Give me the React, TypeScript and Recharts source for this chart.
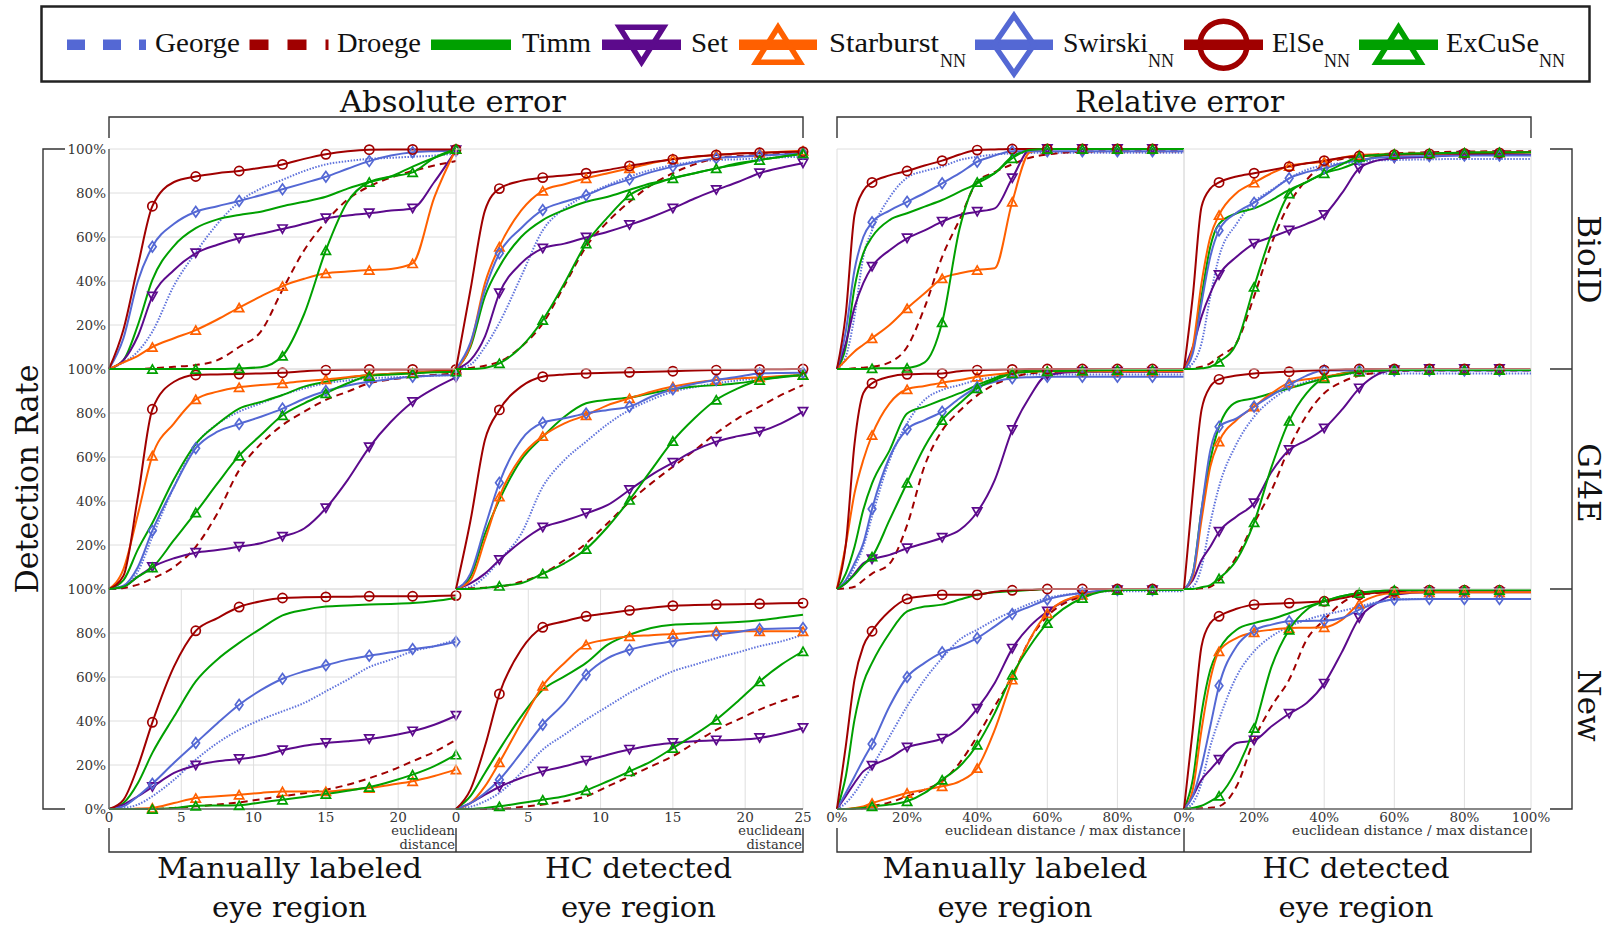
import React from 'react';
import { LineChart, Line, XAxis, YAxis, CartesianGrid } from 'recharts';

// x grids shared by every panel of a kind
const absX = [0, 1, 2, 3, 4.5, 6, 7.5, 9, 10.5, 12, 13.5, 15, 16.5, 18, 19.5, 21, 22.5, 24];
const relX = [0, 2.5, 5, 7.5, 10, 15, 20, 25, 30, 35, 40, 45, 50, 55, 60, 70, 80, 90, 99];
const absMarks = [3, 6, 9, 12, 15, 18, 21, 24];
const relMarks = [10, 20, 30, 40, 50, 60, 70, 80, 90];

const yTicksTop = [20, 40, 60, 80, 100];
const yTicksBottom = [0, 20, 40, 60, 80, 100];
const absTicks = [0, 5, 10, 15, 20];
const absTicksEnd = [0, 5, 10, 15, 20, 24];
const relTicks = [0, 20, 40, 60, 80];
const relTicksEnd = [0, 20, 40, 60, 80, 99];

const rowNames = ['BioID', 'GI4E', 'New'];
const groupTitles = ['Absolute error', 'Relative error'];
const colTitles = ['Manually labeled', 'HC detected', 'Manually labeled', 'HC detected'];

// ---- BioID ----
const bioAbsMan = {
  george: [0, 3, 8, 17, 38, 53, 66, 76, 82, 86, 90, 93, 94.5, 95.5, 96, 96.5, 97, 98],
  droege: [0, 0, 0, 0.3, 1, 1.8, 4, 10, 17, 36, 54, 67, 77, 83, 87, 90, 92.5, 94.5],
  timm: [0, 4, 20, 40.5, 56, 64, 68, 70, 71.5, 74, 76, 78.3, 82, 85, 87.5, 92, 96, 99.5],
  set: [0, 4, 15, 33, 45, 52.6, 56.5, 59.4, 61.5, 63.6, 66, 68.5, 69.8, 70.8, 72, 73, 85, 99.5],
  starburst: [0, 3, 6, 10, 14, 17.7, 22.5, 27.9, 33, 37.7, 41, 43.5, 44.3, 45, 45.5, 48, 78, 100],
  swirski: [0, 14, 40, 55.6, 66, 71.5, 74, 76.4, 79, 81.7, 84.5, 87.4, 91, 94.5, 97, 98.5, 99, 99.2],
  elseNn: [0, 18, 47, 74, 85, 87.5, 89, 90, 91.5, 93, 95.5, 97.6, 99, 99.7, 99.8, 99.8, 99.8, 99.8],
  excuse: [0, 0, 0, 0, 0, 0, 0, 0.3, 0.8, 6, 25, 54, 76, 85, 87.5, 89.4, 96, 100],
};
const bioAbsHc = {
  george: [0, 2, 10, 21, 42, 63, 73, 79, 83.6, 87.4, 90.5, 92.7, 94.2, 95, 95.3, 95.8, 96.2, 96.5],
  droege: [0, 0.5, 1.5, 3.3, 10, 20.7, 38, 55.6, 67, 76, 83.6, 89, 93, 95.8, 96.8, 97.3, 97.8, 98.3],
  timm: [0, 10, 33, 46.5, 60, 67.7, 72.3, 76, 78.3, 81.4, 84.4, 86.7, 89, 91.2, 93.5, 95, 96.5, 97.7],
  set: [0, 4, 14.7, 34.4, 48, 54.8, 57, 59.8, 62.4, 65.5, 69, 73, 77.5, 81.4, 85, 89, 91.5, 93.5],
  starburst: [0, 11, 39, 55.6, 72, 81, 84, 86.7, 89, 91.2, 93.5, 95.5, 96.5, 97.3, 98, 98.3, 98.8, 99.2],
  swirski: [0, 12, 36, 52.6, 64, 72.3, 76, 79, 83, 86.2, 89.5, 92, 94, 95.8, 96.5, 97, 97.5, 98],
  elseNn: [0, 36, 72, 82, 85.5, 87, 88, 89, 90.5, 92.3, 94, 95.3, 96.5, 97.3, 98, 98.3, 98.6, 98.8],
  excuse: [0, 0, 0.5, 2.6, 10, 22.3, 39, 57, 69, 79, 83.6, 86.7, 89, 91.2, 93, 95, 96.5, 98],
};
const bioRelMan = {
  george: [0, 5.6, 24, 51, 63, 78, 87, 90, 92, 95, 96.5, 97.5, 98, 98.2, 98.3, 98.3, 98.3, 98.3, 98.3],
  droege: [0, 0, 0.3, 0.6, 1, 3, 10, 28, 51, 68, 85, 89.5, 93, 96, 97.5, 98.8, 99, 99, 99],
  timm: [0, 10, 37, 52.6, 60, 67.7, 70.8, 73.8, 76.8, 80.6, 84.4, 89, 96.5, 99.5, 100, 100, 100, 100, 100],
  set: [0, 11.7, 28, 39, 46.5, 54, 59.4, 63, 67, 70, 71.5, 73, 86.7, 99.5, 100, 100, 100, 100, 100],
  starburst: [0, 4, 8, 11, 14, 20, 27.6, 34.4, 41.2, 43.5, 45, 45.8, 76, 98.5, 100, 100, 100, 100, 100],
  swirski: [0, 17, 45, 60, 66.7, 72, 76, 80, 84.4, 89, 94.2, 97, 99, 99, 99, 99, 99, 99, 99],
  elseNn: [0, 25, 70, 81, 84.8, 88, 90, 92.5, 94.7, 97.5, 99.5, 99.8, 100, 100, 100, 100, 100, 100, 100],
  excuse: [0, 0, 0, 0, 0.3, 0.3, 0.5, 3, 21.2, 64, 85, 89, 95.8, 99.5, 100, 100, 100, 100, 100],
};
const bioRelHc = {
  george: [0, 2.6, 11.7, 33, 51, 66, 76, 81.4, 86.7, 90.5, 92.7, 93.5, 94.2, 94.8, 95, 95.3, 95.5, 95.5, 95.5],
  droege: [0, 0.3, 1, 2.6, 5.6, 12, 33, 57, 75, 86, 93, 95.5, 96.5, 97.5, 98, 98.5, 98.8, 99, 99],
  timm: [0, 8.6, 33, 55.6, 66, 70.8, 73, 76.8, 81.4, 85, 89, 91.2, 94.2, 96.5, 97.5, 98, 98.3, 98.5, 98.5],
  set: [0, 10, 23.8, 34.4, 42.7, 51, 57, 60, 63, 66, 70, 79.8, 91.2, 94.7, 95.8, 96.5, 97.3, 97.3, 97.3],
  starburst: [0, 10, 39, 60, 70, 80, 84.7, 89, 92.3, 93.5, 94.2, 96, 97.3, 97.5, 97.7, 98, 98.2, 98.4, 98.5],
  swirski: [0, 7, 30, 51, 63, 71, 75.6, 81, 86.7, 89.5, 91.2, 93.5, 95, 96, 96.5, 96.8, 97, 97, 97],
  elseNn: [0, 33, 73.8, 82, 84.8, 87.5, 89, 90.5, 92, 93.5, 94.7, 96, 96.8, 97.2, 97.4, 97.8, 98, 98.2, 98.5],
  excuse: [0, 0, 0.3, 1, 3.3, 11.7, 37.4, 61.7, 79.8, 85, 89, 93, 96.5, 97.3, 97.7, 98, 98.3, 98.5, 98.5],
};

// ---- GI4E ----
const gi4eAbsMan = {
  george: [0, 1, 8, 23.8, 46.5, 65.5, 75, 80.6, 84.4, 88.2, 91.2, 93.5, 94.8, 95.8, 96.2, 96.5, 97, 97.3],
  droege: [0, 0.5, 2, 4.8, 10, 19.2, 34.4, 54, 66, 74.5, 80.6, 86, 89.7, 93.5, 95.2, 96.5, 97.3, 98],
  timm: [0, 4, 18, 30, 50, 66, 75, 82, 85, 88.2, 92, 94.2, 96, 97.3, 97.8, 98.3, 98.8, 99.2],
  set: [0, 1, 5.6, 10, 14, 16.5, 17.7, 19.2, 20.8, 23.8, 27.5, 36.7, 49.5, 64.4, 76, 85, 91.2, 96.2],
  starburst: [0, 9, 34, 60.6, 75.3, 86.2, 89.7, 91.7, 92.7, 93.5, 94.5, 95.3, 96.3, 97.3, 97.8, 98.3, 99, 99.5],
  swirski: [0, 1.5, 10, 26.5, 46.5, 64, 71.5, 75, 78.3, 82, 86.5, 90, 92.5, 94.2, 95.5, 96.5, 97, 97.3],
  elseNn: [0, 6, 42, 81.7, 94.2, 97.3, 97.5, 97.7, 98, 98.3, 99, 99.5, 99.7, 99.8, 99.8, 99.8, 99.8, 99.8],
  excuse: [0, 1, 5.6, 9.8, 22.3, 34.8, 48, 60.6, 70, 79, 84.4, 89, 93.5, 96.8, 97.5, 98, 98.5, 98.8],
};
const gi4eAbsHc = {
  george: [0, 1, 5.6, 13, 25, 46.5, 58.6, 67, 75, 81.4, 86, 89.7, 91.8, 93.5, 94.8, 95.8, 96.6, 97.3],
  droege: [0, 0.3, 0.6, 1, 3.3, 7, 13.2, 20.8, 30, 39.7, 48, 55.6, 63, 70.8, 77.6, 82.9, 88.2, 92.7],
  timm: [0, 5.6, 25, 40.5, 58.6, 69.2, 78.3, 84.4, 86, 87, 89, 90.8, 92, 92.7, 93.5, 95, 96.3, 97.3],
  set: [0, 2.6, 7, 13.2, 21.5, 28, 31, 34.4, 38.2, 45, 51.8, 57.4, 63, 67, 69.5, 71.5, 75.3, 80.6],
  starburst: [0, 4, 22.3, 42, 60, 69.5, 75.3, 79, 83.6, 86.7, 89.7, 92, 93.8, 95, 95.7, 96.2, 96.8, 97.3],
  swirski: [0, 7, 28, 48.3, 67.7, 75.6, 77.6, 79.8, 81.4, 82.9, 87.4, 90.8, 93.3, 95, 96.5, 98, 98.2, 98.3],
  elseNn: [0, 31, 67.7, 81.4, 92, 96.5, 97.5, 98, 98.3, 98.5, 98.8, 99, 99.3, 99.5, 99.6, 99.8, 99.9, 100],
  excuse: [0, 0, 0.5, 1.4, 2.6, 7, 11.7, 18.2, 28.3, 40.5, 54, 67.3, 77.6, 86, 91.2, 95, 96.5, 97.3],
};
const gi4eRelMan = {
  george: [0, 3.3, 10, 19.2, 33, 58.6, 75.3, 86, 90.5, 92.7, 95, 96.3, 97.3, 97.5, 97.5, 97.5, 97.5, 97.5, 97.5],
  droege: [0, 0.3, 1, 4, 7, 11.5, 29, 56, 72, 81, 88, 93, 96, 98, 98.5, 99, 99, 99, 99],
  timm: [0, 7, 19.2, 36, 48, 63, 79.8, 82.9, 86, 89, 92.7, 95.8, 98.8, 99.2, 99.5, 99.5, 99.5, 99.5, 99.5],
  set: [0, 2.6, 7, 11.7, 13.5, 15.5, 18.5, 20.8, 23.3, 26.8, 35, 49.5, 72.3, 87.4, 97.3, 98.8, 98.8, 98.8, 98.8],
  starburst: [0, 20, 43.5, 58.6, 70, 84.4, 90.8, 92.3, 93.8, 95, 96.5, 97.5, 98.3, 98.7, 99, 99, 99, 99, 99],
  swirski: [0, 4, 11.7, 20.8, 36.4, 60, 72.6, 76.8, 80.6, 86.7, 91.7, 94.2, 95.8, 96.3, 96.5, 96.5, 96.5, 96.5, 96.5],
  elseNn: [0, 20, 66, 89, 93.5, 96.5, 97.6, 97.8, 98, 99, 99.5, 99.7, 99.8, 100, 100, 100, 100, 100, 100],
  excuse: [0, 2.6, 6.4, 11, 14.7, 31.4, 48.3, 64.7, 76.8, 84.4, 91.2, 95, 98, 98.8, 99, 99.3, 99.5, 99.5, 99.5],
};
const gi4eRelHc = {
  george: [0, 1, 10, 30, 46.5, 66, 78.3, 86, 91.2, 94.2, 96.5, 97.5, 98, 98, 98, 98, 98, 98, 98],
  droege: [0, 0, 0.3, 1, 4, 14.7, 30, 45, 64, 79, 89, 94, 97, 98.3, 99, 99.3, 99.3, 99.3, 99.3],
  timm: [0, 7, 36, 58.6, 73.8, 85, 86.7, 89, 91.2, 93.5, 95.8, 98, 99, 99.3, 99.5, 99.5, 99.5, 99.5, 99.5],
  set: [0, 4, 13.2, 19.2, 26, 33, 39, 53.3, 63.2, 67.7, 73, 81.4, 91.2, 97.3, 99.5, 100, 100, 100, 100],
  starburst: [0, 5.6, 31.4, 55.6, 67, 76.8, 82.9, 89, 93.8, 95.3, 96.5, 97.8, 98.8, 99.2, 99.5, 99.5, 99.5, 99.5, 99.5],
  swirski: [0, 7, 36, 63, 73.8, 77.6, 82.9, 88, 92.7, 97, 99.3, 99.3, 99.3, 99.3, 99.3, 99.3, 99.3, 99.3, 99.3],
  elseNn: [0, 43.5, 81.4, 92, 95.3, 97, 98, 98.4, 98.8, 99.2, 99.5, 99.8, 100, 100, 100, 100, 100, 100, 100],
  excuse: [0, 0, 0.8, 1.8, 4.8, 13.2, 30.3, 55.6, 76.4, 89, 95.8, 97.3, 98.8, 99.2, 99.5, 99.5, 99.5, 99.5, 99.5],
};

// ---- New ----
const newAbsMan = {
  george: [0, 0.5, 2, 5.8, 13.3, 22.4, 30, 36, 40.6, 44.4, 48.2, 53.5, 58.8, 64.5, 67.9, 71.7, 74, 77],
  droege: [0, 0, 0, 0, 0.5, 1.2, 2, 3, 4.4, 5.8, 7.2, 8.8, 11, 14, 17.5, 21.7, 26, 31.5],
  timm: [0, 2.7, 11.8, 25.5, 42, 58, 68, 75.5, 82, 88, 90.5, 92, 92.5, 92.9, 93.2, 93.6, 94.5, 95.9],
  set: [0, 2, 5.8, 10, 16.4, 19.8, 21.7, 22.7, 24.2, 26.7, 28.8, 30, 30.8, 31.8, 33.3, 35.3, 38.3, 42.4],
  starburst: [0, 0, 0.2, 0.5, 2.7, 5, 5.8, 6.5, 7.3, 8, 8, 8, 8.8, 9.5, 11, 12.6, 15, 17.9],
  swirski: [0, 1.2, 5.8, 11.5, 21, 30, 39, 47.4, 54, 59.2, 62.6, 65.3, 67.9, 69.7, 71.2, 72.7, 74, 76],
  elseNn: [0, 4.2, 19.4, 39.4, 64.8, 81, 86.8, 91.8, 94.4, 95.9, 96.2, 96.4, 96.5, 96.7, 96.7, 96.7, 96.8, 97],
  excuse: [0, 0, 0, 0, 0.5, 1.5, 1.6, 1.7, 3, 4.2, 5.5, 6.8, 8.3, 10, 12.5, 15.6, 19.5, 24.7],
};
const newAbsHc = {
  george: [0, 1, 3.5, 7.3, 16.4, 27, 33.8, 40.6, 46.7, 52.7, 58, 62.6, 65.6, 68.6, 71.2, 74, 76.2, 79.2],
  droege: [0, 0, 0, 0, 0.9, 2, 3.5, 5.8, 10.3, 14.8, 19.4, 24, 30, 36, 40.6, 45.2, 49, 52],
  timm: [0, 5.8, 16.4, 27, 42, 54.2, 60.3, 66.4, 74.7, 79.2, 82.3, 83.8, 84.2, 84.5, 85, 85.8, 87, 88.3],
  set: [0, 2.7, 6.5, 10, 14.1, 17.1, 19.4, 22, 24.7, 27, 28.9, 30, 30.8, 31.2, 31.5, 32.3, 34.2, 36.8],
  starburst: [0, 2.7, 10.3, 21.2, 39, 56, 66.4, 74.7, 77, 78.5, 79, 79.5, 80.2, 80.8, 80.8, 80.8, 80.8, 80.8],
  swirski: [0, 2.7, 7.3, 13.3, 25.5, 38.3, 48.2, 61, 68.6, 72.4, 74.7, 76.2, 78, 79.2, 80.5, 81.8, 82, 82.3],
  elseNn: [0, 8.8, 28.5, 52.3, 72.4, 82.6, 85.3, 87.6, 89, 90.3, 91.5, 92.4, 92.7, 92.9, 93.1, 93.3, 93.5, 93.6],
  excuse: [0, 0, 0.5, 1.2, 2.7, 4.2, 5.8, 8.5, 12.6, 17.1, 21.7, 27.7, 33.8, 40.6, 49, 58, 65.6, 71.7],
};
const newRelMan = {
  george: [0, 2.7, 7.3, 13.3, 19.4, 33, 46.7, 58.8, 68.6, 77, 81.5, 86, 89.8, 93.3, 95.9, 98.2, 99, 99, 99],
  droege: [0, 0, 0.2, 0.5, 1.2, 3, 5.8, 8.8, 12.6, 21, 33, 46.7, 60.3, 77, 87.6, 96.7, 99.5, 99.5, 99.5],
  timm: [0, 14.8, 40.6, 57.3, 66.4, 80, 89.8, 92, 92.9, 95.2, 97.4, 98.5, 99, 99.5, 100, 100, 100, 100, 100],
  set: [0, 5.8, 11.8, 17.1, 19.7, 23.2, 28, 30, 32, 36.8, 45.6, 57.3, 72.9, 83, 89.8, 97.4, 99.5, 99.5, 99.5],
  starburst: [0, 0, 0.5, 1.2, 2.7, 5, 7.3, 8.8, 10.3, 12.6, 18.6, 36, 58.8, 77, 89, 97.4, 99.5, 99.5, 99.5],
  swirski: [0, 7.3, 14.8, 22.4, 29.5, 46.7, 60, 66.4, 71.2, 74, 77.7, 83, 88.6, 92, 95.2, 98.2, 99.5, 99.5, 99.5],
  elseNn: [0, 28.5, 58.8, 74, 80.8, 90, 95.5, 96.8, 97.4, 97.4, 97.4, 98.8, 99.4, 99.7, 100, 100, 100, 100, 100],
  excuse: [0, 0, 0.2, 0.5, 1.2, 2, 3.5, 7.3, 13.3, 19.4, 29.2, 43.6, 61, 74, 84.5, 95.9, 99.5, 99.5, 99.5],
};
const newRelHc = {
  george: [0, 2.7, 11.8, 28.5, 40.6, 60.3, 71.7, 78.5, 83, 86, 88.3, 90, 92, 94, 95.2, 95.5, 95.5, 95.5, 95.5],
  droege: [0, 0, 0.3, 0.6, 1.2, 10.3, 31.5, 46.7, 58.8, 77, 86, 93.6, 97.4, 98.2, 99, 99.5, 99.5, 99.5, 99.5],
  timm: [0, 13.3, 43.6, 63.3, 72.4, 81.5, 84.5, 86.4, 89, 92, 94.4, 96.7, 98.2, 99, 99.5, 99.5, 99.5, 99.5, 99.5],
  set: [0, 5.8, 13.3, 17.9, 22.4, 30, 31.2, 37.6, 43.3, 48.2, 57, 71.2, 86.8, 93.6, 97.4, 98.5, 98.5, 98.5, 98.5],
  starburst: [0, 8.8, 36, 58.8, 71.7, 77.7, 80.3, 81.5, 82.3, 82.4, 82.6, 86, 93.3, 97, 98.2, 98.5, 98.5, 98.5, 98.5],
  swirski: [0, 5.8, 19.4, 37.6, 56, 74, 81.2, 83.8, 85.3, 85.5, 85.6, 86.8, 90.6, 93.6, 95.2, 95.5, 95.5, 95.5, 95.5],
  elseNn: [0, 36, 74, 84.5, 87.6, 91, 92.9, 93.3, 93.6, 94, 94.4, 95.8, 97.4, 98.3, 98.9, 99.5, 99.5, 99.5, 99.5],
  excuse: [0, 0.5, 1.5, 3.5, 6, 17.9, 36.8, 64.8, 81.5, 90.6, 94.4, 96.7, 98.2, 99, 99.5, 99.5, 99.5, 99.5, 99.5],
};

const panelData = [
  [bioAbsMan, bioAbsHc, bioRelMan, bioRelHc],
  [gi4eAbsMan, gi4eAbsHc, gi4eRelMan, gi4eRelHc],
  [newAbsMan, newAbsHc, newRelMan, newRelHc],
];

const BLUE = '#5468d4';
const RED = '#a00000';
const GREEN = '#00a000';
const PURPLE = '#5c0a8c';
const ORANGE = '#ff6000';

const series = [
  { key: 'george', name: 'George', color: BLUE, lineColor: '#6073dc', dash: '1.5 1.5', legendDash: '18 18', marker: null },
  { key: 'droege', name: 'Droege', color: RED, lineColor: RED, dash: '7 5', legendDash: '19 19', marker: null },
  { key: 'timm', name: 'Timm', color: GREEN, lineColor: GREEN, marker: null },
  { key: 'set', name: 'Set', color: PURPLE, lineColor: PURPLE, marker: 'down' },
  { key: 'starburst', name: 'Starburst', sub: 'NN', color: ORANGE, lineColor: ORANGE, marker: 'up' },
  { key: 'swirski', name: 'Swirski', sub: 'NN', color: BLUE, lineColor: BLUE, marker: 'diamond' },
  { key: 'elseNn', name: 'ElSe', sub: 'NN', color: RED, lineColor: RED, marker: 'circle' },
  { key: 'excuse', name: 'ExCuSe', sub: 'NN', color: GREEN, lineColor: GREEN, marker: 'up' },
];

// layout
const COLS = [{ x: 109, w: 347 }, { x: 456, w: 347 }, { x: 837, w: 347 }, { x: 1184, w: 347 }];
const ROWS = [{ y: 149, h: 220 }, { y: 369, h: 220 }, { y: 589, h: 220 }];
const PAD = 26;
const SERIF = "'DejaVu Serif', serif";
const TIMES = "'Liberation Serif', serif";

const legendLayout = [
  { x1: 67, x2: 146, tx: 155, tw: 85 },
  { x1: 249.5, x2: 328.5, tx: 337, tw: 84 },
  { x1: 431, x2: 511, tx: 522, tw: 69 },
  { x1: 602, x2: 681, tx: 691, tw: 37 },
  { x1: 739, x2: 817, tx: 829, tw: 110, nx: 940 },
  { x1: 975, x2: 1053, tx: 1063, tw: 85, nx: 1148 },
  { x1: 1184, x2: 1263, tx: 1272, tw: 52, nx: 1324 },
  { x1: 1359, x2: 1438, tx: 1446, tw: 93, nx: 1539 },
];

const plotMarker = { circle: [4.6, 4.6], diamond: [3.8, 5.3], up: [4.6, 4.1], down: [4.6, 4.1] };
const legendMarker = { circle: [23.5, 23.5], diamond: [20, 29], up: [22, 17.5], down: [22, 17.5] };

function Marker({ kind, cx, cy, color, w, h, sw }: any) {
  const common = { fill: 'none', stroke: color, strokeWidth: sw };
  if (kind === 'circle') return <circle cx={cx} cy={cy} r={w} {...common} />;
  if (kind === 'diamond')
    return <polygon points={`${cx},${cy - h} ${cx + w},${cy} ${cx},${cy + h} ${cx - w},${cy}`} {...common} />;
  const d = kind === 'up' ? 1 : -1;
  return <polygon points={`${cx},${cy - d * h} ${cx + w},${cy + d * h} ${cx - w},${cy + d * h}`} {...common} />;
}

const renderDot = (s: any, marks: number[]) => (p: any) => {
  const k = `${s.key}-${p.index}`;
  if (p.cx == null || !marks.includes(p.payload.x)) return <g key={k} />;
  const [w, h] = (plotMarker as any)[s.marker];
  return <Marker key={k} kind={s.marker} cx={p.cx} cy={p.cy} color={s.color} w={w} h={h} sw={1.7} />;
};

function Panel({ r, c }: { r: number; c: number }) {
  const data: any = panelData[r][c];
  const abs = c < 2;
  const xs = abs ? absX : relX;
  const last = c === 1 || c === 3;
  const xTicks = abs ? (last ? absTicksEnd : absTicks) : last ? relTicksEnd : relTicks;
  const yTicks = r === 2 ? yTicksBottom : yTicksTop;
  const yW = c === 0 ? 62 : 0;
  const xH = r === 2 ? 26 : 0;
  const marks = abs ? absMarks : relMarks;
  const rows = xs.map((x, i) => {
    const o: any = { x };
    series.forEach((s) => {
      o[s.key] = data[s.key][i];
    });
    return o;
  });
  const fmtX = (v: number) => (abs ? (v === 24 ? '25' : String(v)) : v === 99 ? '100%' : `${v}%`);
  const tickStyle = { fontSize: 13.5, fill: '#353535', style: { fontFamily: SERIF } };
  const width = PAD * 2 + yW + COLS[c].w;
  const height = PAD * 2 + ROWS[r].h + xH;
  return (
    <div style={{ position: 'absolute', left: COLS[c].x - PAD - yW, top: ROWS[r].y - PAD }}>
      <LineChart width={width} height={height} data={rows} margin={{ top: PAD, right: PAD, bottom: PAD, left: PAD }}>
        <CartesianGrid stroke="#dedede" strokeWidth={1} />
        <XAxis
          type="number"
          dataKey="x"
          domain={[0, abs ? 24 : 99]}
          ticks={xTicks}
          interval={0}
          height={xH}
          tick={r === 2 ? tickStyle : false}
          tickLine={false}
          tickSize={0}
          tickMargin={3}
          tickFormatter={fmtX}
          axisLine={{ stroke: '#666', strokeWidth: 1.5 }}
        />
        <YAxis
          type="number"
          domain={[0, 100]}
          ticks={yTicks}
          interval={0}
          width={yW}
          tick={c === 0 ? tickStyle : false}
          tickLine={false}
          tickSize={0}
          tickMargin={3}
          tickFormatter={(v: number) => `${v}%`}
          axisLine={{ stroke: '#666', strokeWidth: 1.5 }}
        />
        {series.map((s) => (
          <Line
            key={s.key}
            type="monotone"
            dataKey={s.key}
            stroke={s.lineColor}
            strokeWidth={2}
            strokeDasharray={s.dash}
            dot={s.marker ? renderDot(s, marks) : false}
            activeDot={false}
            isAnimationActive={false}
          />
        ))}
      </LineChart>
    </div>
  );
}

function Decorations() {
  const ly = 44.7;
  return (
    <svg width={1617} height={927} style={{ position: 'absolute', left: 0, top: 0 }}>
      {/* legend */}
      <rect x={41.5} y={6.5} width={1548} height={75} fill="none" stroke="#222" strokeWidth={2.5} />
      {series.map((s, i) => {
        const L = legendLayout[i];
        const mk = s.marker ? (legendMarker as any)[s.marker] : null;
        return (
          <g key={s.key}>
            <line x1={L.x1} x2={L.x2} y1={ly} y2={ly} stroke={s.color} strokeWidth={10.5} strokeDasharray={s.legendDash} />
            {mk && (
              <Marker kind={s.marker} cx={(L.x1 + L.x2) / 2} cy={ly} color={s.color} w={mk[0]} h={mk[1]} sw={5.5} />
            )}
            <text x={L.tx} y={52} style={{ fontFamily: TIMES }} fontSize={28} fill="#111" textLength={L.tw} lengthAdjust="spacingAndGlyphs">
              {s.name}
            </text>
            {s.sub && (
              <text x={L.nx} y={66.5} style={{ fontFamily: TIMES }} fontSize={18} fill="#111">
                {s.sub}
              </text>
            )}
          </g>
        );
      })}

      {/* group titles and brackets */}
      <g style={{ fontFamily: SERIF }} fontSize={29} fill="#111" textAnchor="middle">
        <text x={453} y={112} textLength={226} lengthAdjust="spacingAndGlyphs">
          {groupTitles[0]}
        </text>
        <text x={1179.5} y={112} textLength={209} lengthAdjust="spacingAndGlyphs">
          {groupTitles[1]}
        </text>
      </g>
      <g fill="none" stroke="#333" strokeWidth={1.4}>
        <path d="M109,138 V117 H803 V138" />
        <path d="M837,138 V117 H1531 V138" />
        <path d="M109,828 V852 H803 V828 M456,828 V852" />
        <path d="M837,828 V852 H1531 V828 M1184,828 V852" />
        <path d="M65,149 H43 V809 H65" />
        <path d="M1550,149 H1572 V809 H1550 M1550,369 H1572 M1550,589 H1572" />
      </g>

      {/* axis captions */}
      <text transform="translate(38,479) rotate(-90)" textAnchor="middle" style={{ fontFamily: SERIF }} fontSize={31} fill="#111" textLength={229} lengthAdjust="spacingAndGlyphs">
        Detection Rate
      </text>
      {rowNames.map((n, i) => (
        <text key={n} transform={`translate(1578,${[259.5, 483, 705.5][i]}) rotate(90)`} textAnchor="middle" style={{ fontFamily: SERIF }} fontSize={31} fill="#111">
          {n}
        </text>
      ))}

      {[455, 802].map((x) => (
        <g key={x} style={{ fontFamily: SERIF }} fontSize={13} fill="#333" textAnchor="end">
          <text x={x} y={835}>euclidean</text>
          <text x={x} y={849}>distance</text>
        </g>
      ))}
      {[1181, 1528].map((x) => (
        <text key={x} x={x} y={835} style={{ fontFamily: SERIF }} fontSize={13} fill="#333" textAnchor="end" textLength={236} lengthAdjust="spacingAndGlyphs">
          euclidean distance / max distance
        </text>
      ))}

      {colTitles.map((t, i) => {
        const cx = [289.5, 638.5, 1015, 1356][i];
        const tw = i % 2 === 0 ? 265 : 187;
        return (
          <g key={i} style={{ fontFamily: SERIF }} fontSize={28} fill="#111" textAnchor="middle">
            <text x={cx} y={878} textLength={tw} lengthAdjust="spacingAndGlyphs">{t}</text>
            <text x={cx} y={917} textLength={155} lengthAdjust="spacingAndGlyphs">eye region</text>
          </g>
        );
      })}
    </svg>
  );
}

export default function App() {
  const order: [number, number][] = [];
  [2, 1, 0].forEach((r) => [0, 1, 2, 3].forEach((c) => order.push([r, c])));
  return (
    <div style={{ position: 'absolute', left: 0, top: 0, width: 1617, height: 927, background: '#fff', overflow: 'hidden' }}>
      <Decorations />
      {order.map(([r, c]) => (
        <Panel key={`${r}-${c}`} r={r} c={c} />
      ))}
    </div>
  );
}
